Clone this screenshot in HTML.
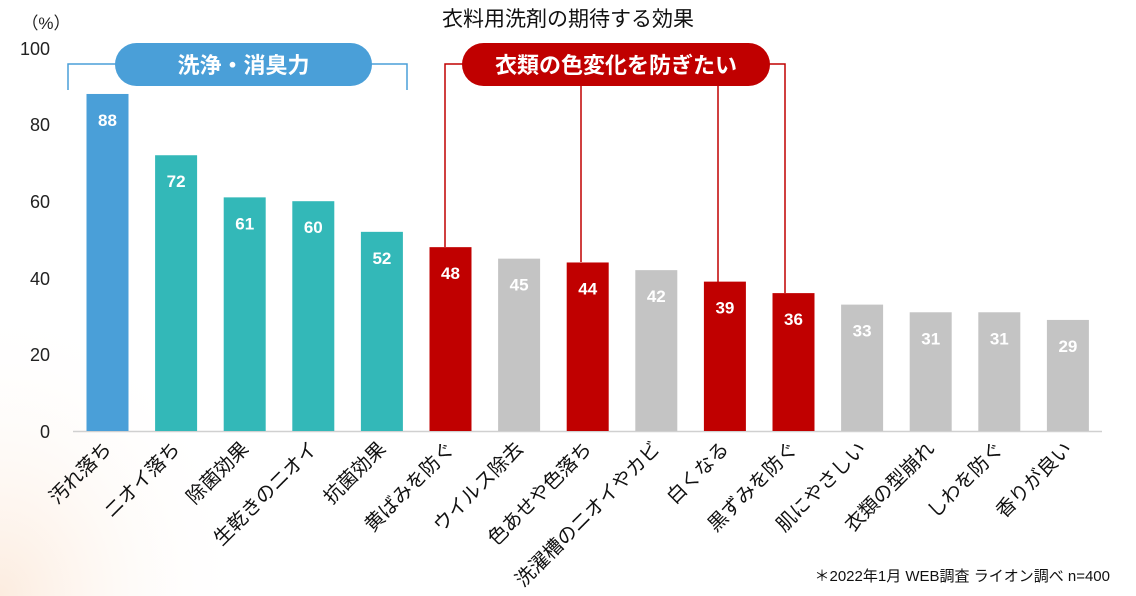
<!DOCTYPE html>
<html><head><meta charset="utf-8"><style>
body{margin:0;width:1136px;height:596px;overflow:hidden;background:#fff;}
svg{display:block;font-family:"Liberation Sans","Noto Sans CJK JP",sans-serif;}
</style></head><body>
<svg width="1136" height="596" viewBox="0 0 1136 596">
<defs><radialGradient id="g" cx="0" cy="1" r="0.5"><stop offset="0" stop-color="#fcecdf"/><stop offset="1" stop-color="#fff" stop-opacity="0"/></radialGradient></defs>
<rect width="1136" height="596" fill="#fff"/>
<rect width="500" height="596" fill="url(#g)"/>
<text x="568" y="26" font-size="21" text-anchor="middle" fill="#111">衣料用洗剤の期待する効果</text>
<text x="46" y="29" font-size="17" text-anchor="middle" fill="#222">（%）</text>
<g font-size="18" fill="#222" text-anchor="end">
<text x="50" y="55">100</text><text x="50" y="131">80</text><text x="50" y="208">60</text><text x="50" y="285">40</text><text x="50" y="361">20</text><text x="50" y="438">0</text>
</g>
<path d="M68 90V64H407V90" fill="none" stroke="#4a9fd8" stroke-width="1.5"/>
<rect x="115" y="43" width="257" height="43" rx="21.5" fill="#4a9fd8"/>
<text x="243.5" y="73" font-size="22" font-weight="bold" fill="#fff" text-anchor="middle">洗浄・消臭力</text>
<path d="M445 247V64H785V293M581 64V262M718 64V282" fill="none" stroke="#c00000" stroke-width="1.5"/>
<rect x="462" y="43" width="308" height="43" rx="21.5" fill="#c00000"/>
<text x="616" y="73" font-size="22" font-weight="bold" fill="#fff" text-anchor="middle">衣類の色変化を防ぎたい</text>
<line x1="73" y1="431.5" x2="1102" y2="431.5" stroke="#d0d0d0" stroke-width="1.5"/>
<g id="bars"></g>
<text x="1110" y="581" font-size="15" text-anchor="end" fill="#111">＊2022年1月 WEB調査  ライオン調べ  n=400</text>
</svg>
<script>
var d=[[88,'#4a9fd8','汚れ落ち'],[72,'#33b8b8','ニオイ落ち'],[61,'#33b8b8','除菌効果'],[60,'#33b8b8','生乾きのニオイ'],[52,'#33b8b8','抗菌効果'],[48,'#c00000','黄ばみを防ぐ'],[45,'#c4c4c4','ウイルス除去'],[44,'#c00000','色あせや色落ち'],[42,'#c4c4c4','洗濯槽のニオイやカビ'],[39,'#c00000','白くなる'],[36,'#c00000','黒ずみを防ぐ'],[33,'#c4c4c4','肌にやさしい'],[31,'#c4c4c4','衣類の型崩れ'],[31,'#c4c4c4','しわを防ぐ'],[29,'#c4c4c4','香りが良い']];
var s='';
d.forEach(function(b,i){var cx=107.5+i*68.6,h=b[0]*3.83,y=431-h;
s+='<rect x="'+(cx-21)+'" y="'+y+'" width="42" height="'+h+'" fill="'+b[1]+'"/>';
s+='<text x="'+cx+'" y="'+(y+32)+'" font-size="17" font-weight="bold" fill="#fff" text-anchor="middle">'+b[0]+'</text>';
s+='<text transform="translate('+(cx+5)+',450) rotate(-45)" font-size="19.5" fill="#111" text-anchor="end">'+b[2]+'</text>';});
document.getElementById('bars').innerHTML=s;
</script>
</body></html>
